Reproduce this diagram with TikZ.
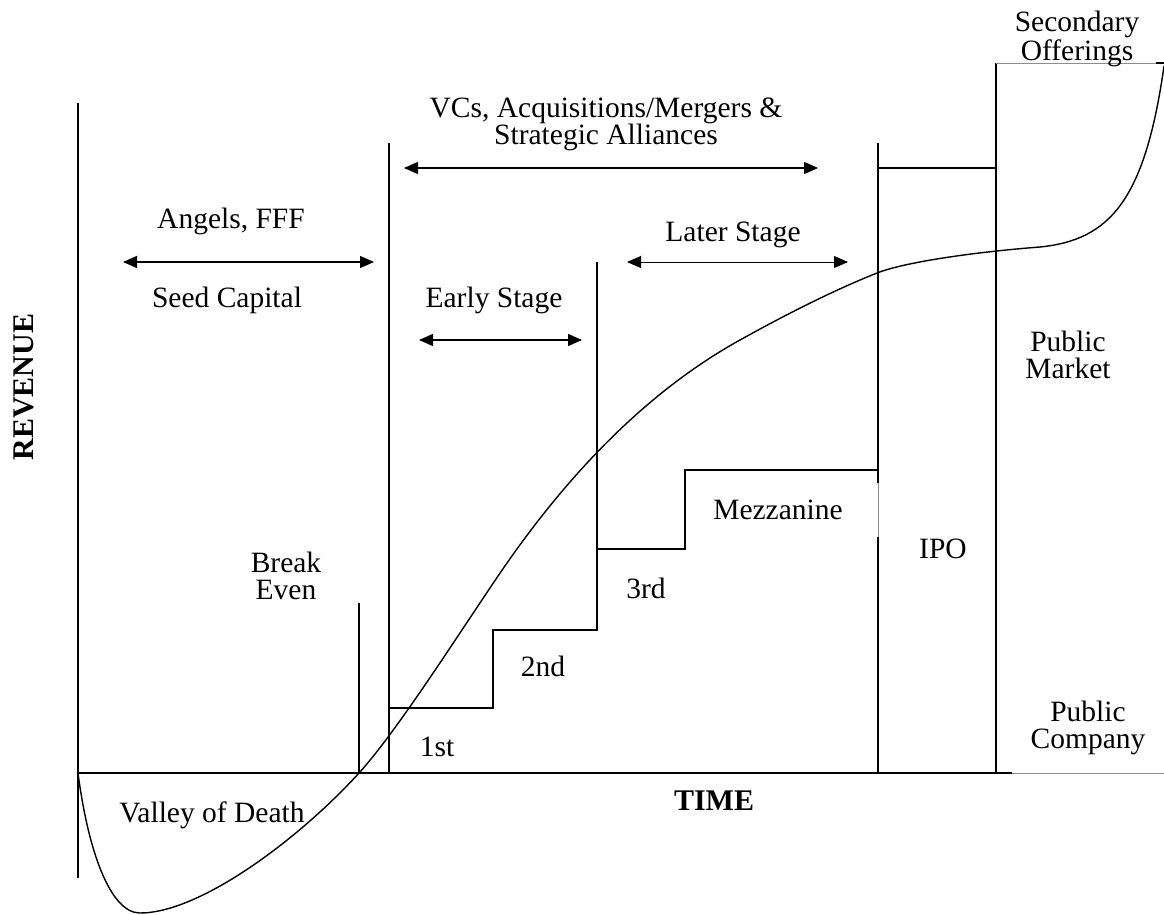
\documentclass[tikz,border=0pt]{standalone}
\usepackage{fontspec}
\setmainfont{Liberation Serif}
\usetikzlibrary{arrows.meta}
\begin{document}
\begin{tikzpicture}[x=1pt,y=-1pt,
  ln/.style={line width=1.3pt,black},
  thin/.style={line width=0.9pt,black!45},
  dbl/.style={line width=1.3pt,{Triangle[length=14pt,width=12pt]}-{Triangle[length=14pt,width=12pt]}},
  lbl/.style={inner sep=0pt,align=center,font=\fontsize{29.5}{27}\selectfont},
  blbl/.style={inner sep=0pt,font=\fontsize{30}{30}\selectfont\bfseries}]
\useasboundingbox (0,0) rectangle (1164,915);
% axes
\coordinate (o) at (78,773);
\draw[ln] (78,103) -- (78,878);
\draw[ln] (78,773) -- (1012,773);
\draw[thin] (1012,773) -- (1164,773);
% verticals
\draw[ln] (389,143) -- (389,773);
\draw[ln] (359,603) -- (359,773);
\draw[ln] (878,143) -- (878,483);
\draw[thin] (878,483) -- (878,537);
\draw[ln] (878,537) -- (878,773);
\draw[ln] (996,63) -- (996,773);
\draw[ln] (878,168) -- (996,168);
\draw[thin] (996,63) -- (1156,63);
\draw[ln] (1156,63) -- (1164,63);
% steps
\draw[ln] (389,708) -- (493,708) -- (493,630) -- (597,630) -- (597,262);
\draw[ln] (597,630) -- (597,549) -- (685,549) -- (685,470) -- (878,470);
% arrows
\coordinate (a1) at (123,262); \coordinate (a2) at (374,262);
\coordinate (v1) at (404,168); \coordinate (v2) at (818,168);
\coordinate (e1) at (419,340); \coordinate (e2) at (582,340);
\coordinate (l1) at (627,262); \coordinate (l2) at (848,262);
\draw[dbl] (a1) -- (a2);
\draw[dbl] (v1) -- (v2);
\draw[dbl] (e1) -- (e2);
\draw[dbl,line width=0.9pt] (l1) -- (l2);
% curve
\coordinate (c0) at (78,773);
\coordinate (c1) at (140,913);
\coordinate (c2) at (359,773);
\coordinate (c3) at (507,563);
\coordinate (c4) at (740,340);
\coordinate (c5) at (877,273);
\coordinate (c6) at (1040,247);
\coordinate (c7) at (1164,66);
\draw[line width=1.4pt] (c0) .. controls (88,850) and (110,913) .. (c1)
  .. controls (200,913) and (299,839) .. (c2)
  .. controls (400,728) and (470,616) .. (c3)
  .. controls (579,460) and (657,386) .. (c4)
  .. controls (785,315) and (832,291) .. (c5)
  .. controls (905,262) and (975,252) .. (c6)
  .. controls (1110,240) and (1145,200) .. (c7);
% labels
\node[lbl] (sec) at (1077,39) {Secondary\\Offerings};
\node[lbl] (vcs) at (606,124) {VCs, Acquisitions/Mergers \&\\Strategic Alliances};
\node[lbl] (ang) at (231,221) {Angels, FFF};
\node[lbl] (seed) at (227,300) {Seed Capital};
\node[lbl] (early) at (494,300) {Early Stage};
\node[lbl] (later) at (733,235) {Later Stage};
\node[lbl] (pm) at (1068,355) {Public\\Market};
\node[lbl] (mezz) at (778,510) {Mezzanine};
\node[lbl] (ipo) at (943,549) {IPO};
\node[lbl] (be) at (286,576) {Break\\Even};
\node[lbl] (r3) at (646,588) {3rd};
\node[lbl] (r2) at (543,666) {2nd};
\node[lbl] (r1) at (437,747) {1st};
\node[lbl] (pc) at (1088,728) {Public\\Company};
\node[lbl] (vod) at (212,815) {Valley of Death};
\node[blbl] (time) at (714,801) {TIME};
\node[blbl,rotate=90] (rev) at (24,387) {REVENUE};
\end{tikzpicture}
\end{document}
